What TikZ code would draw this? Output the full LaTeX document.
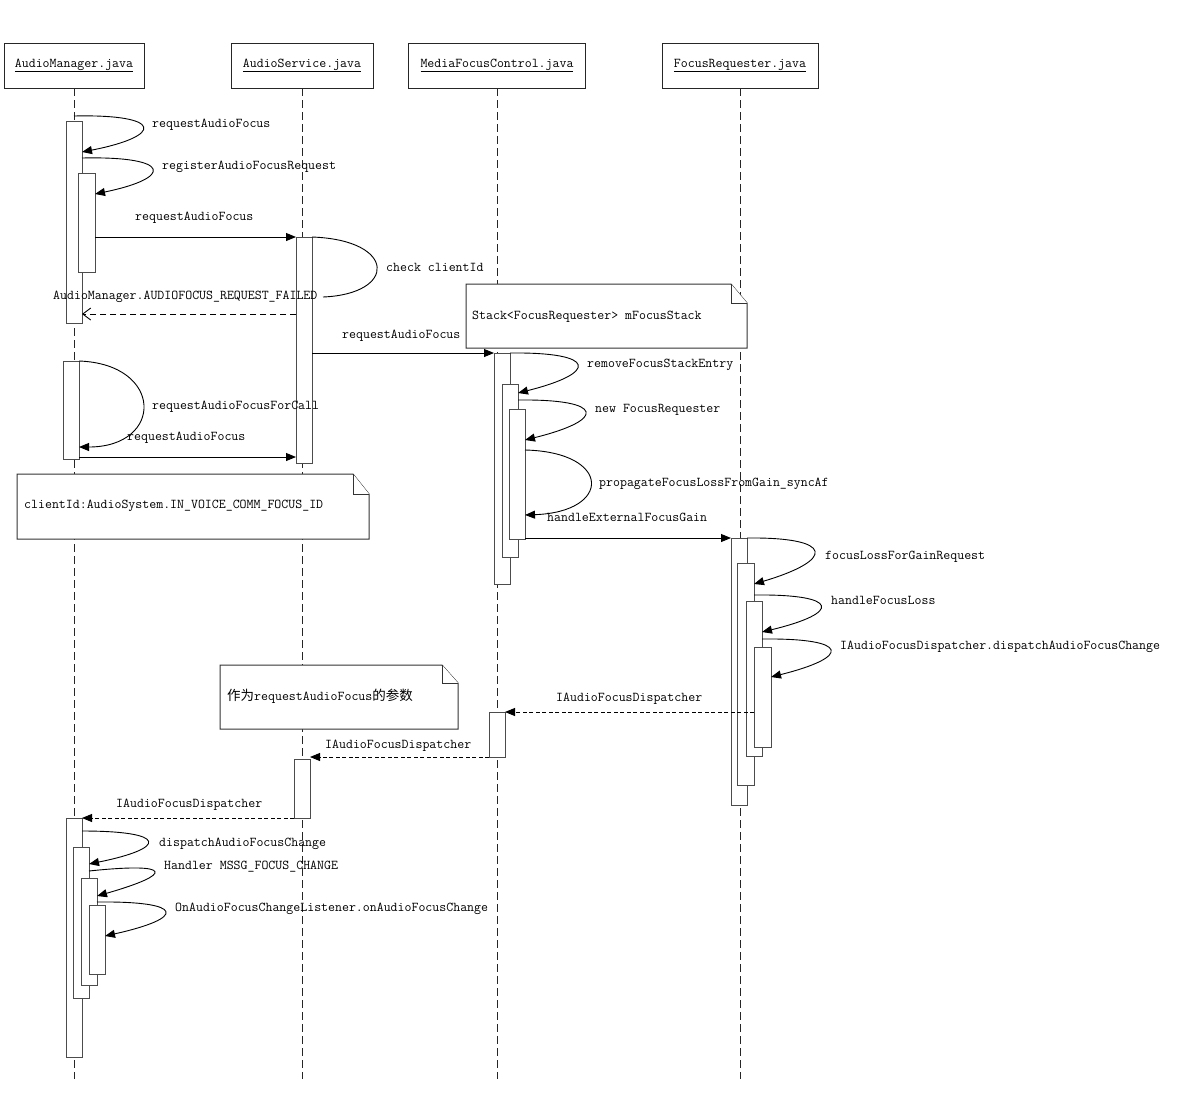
\documentclass[tikz,border=0pt]{standalone}
\usepackage{fontspec}
\newfontfamily\cjk{Noto Sans CJK SC}
\usetikzlibrary{arrows.meta,calc}
\newcommand\lbf{\fontsize{13.5}{16}\selectfont\ttfamily}
\newcommand\actbox[5]{\node[act,anchor=north west,minimum width={(#4-#2)*1pt},minimum height={(#5-#3)*1pt}] (#1) at (#2,#3) {};}
\newcommand\notebox[7]{%
  \node[anchor=north west,inner sep=0pt,outer sep=0pt,minimum width={(#4-#2)*1pt},minimum height={(#5-#3)*1pt}] (#1) at (#2,#3) {};
  \filldraw[notel] (#1.north west) -- ($(#1.north east)+(-#6,0)$) -- ($(#1.north east)+(0,#7)$) -- (#1.south east) -- (#1.south west) -- cycle;
  \draw[notel] ($(#1.north east)+(-#6,0)$) |- ($(#1.north east)+(0,#7)$);}
\begin{document}
\begin{tikzpicture}[x=1pt,y=-1pt,
  lbl/.style={font=\lbf,anchor=west,inner sep=0pt,text height=9pt,text depth=3pt},
  hdr/.style={draw=black!85,fill=white,line width=0.9pt,font=\lbf,inner sep=0pt,minimum height=45pt},
  life/.style={draw=black!85,line width=0.9pt,dash pattern=on 8pt off 4pt},
  act/.style={draw=black!70,fill=white,line width=1pt,inner sep=0pt,outer sep=0pt},
  notel/.style={draw=black!80,fill=white,line width=1pt},
  msg/.style={draw=black,line width=0.9pt,-{Triangle[length=10pt,width=8pt]}},
  ret/.style={draw=black,line width=0.9pt,dash pattern=on 4pt off 2.5pt,-{Triangle[length=10pt,width=8pt]}},
  retopen/.style={draw=black,line width=0.9pt,dash pattern=on 6pt off 4pt,-{Straight Barb[length=8pt,width=12pt]}},
  loopl/.style={draw=black,line width=0.9pt}]
\useasboundingbox (0,0) rectangle (1181,1114);
\fill[white] (0,0) rectangle (1181,1114);

% headers
\node[hdr,minimum width=140pt] (amh) at (74,65.5) {\underline{AudioManager.java}};
\node[hdr,minimum width=142pt] (ash) at (302,65.5) {\underline{AudioService.java}};
\node[hdr,minimum width=177pt] (mfh) at (497,65.5) {\underline{MediaFocusControl.java}};
\node[hdr,minimum width=156pt] (frh) at (740,65.5) {\underline{FocusRequester.java}};

% lifelines
\coordinate (bot) at (0,1079);
\draw[life] (amh.south) -- (amh.south |- bot);
\draw[life] (ash.south) -- (ash.south |- bot);
\draw[life] (mfh.south) -- (mfh.south |- bot);
\draw[life] (frh.south) -- (frh.south |- bot);

% notes
\notebox{n1}{17}{474}{369}{539}{16}{20}
\node[lbl] (n1t) at (24,505) {clientId:AudioSystem.IN\_VOICE\_COMM\_FOCUS\_ID};
\notebox{n2}{466}{284}{747}{348}{16}{19}
\node[lbl] (n2t) at (472,316) {Stack<FocusRequester> mFocusStack};
\notebox{n3}{220}{665}{458}{729}{16}{18}
\node[lbl] (n3t) at (227,697) {{\cjk 作为}requestAudioFocus{\cjk 的参数}};

% activations
\actbox{A1}{66}{121}{82}{323}
\actbox{A2}{78}{173}{95}{272}
\actbox{A3}{63}{361}{79}{459}
\actbox{B1}{296}{237}{312}{463}
\actbox{B2}{294}{759}{310}{818}
\actbox{C1}{494}{353}{510}{584}
\actbox{C2}{502}{384}{518}{557}
\actbox{C3}{509}{409}{525}{539}
\actbox{C4}{489}{712}{505}{757}
\actbox{D1}{731}{538}{747}{805}
\actbox{D2}{737}{563}{754}{785}
\actbox{D3}{746}{601}{762}{756}
\actbox{D4}{754}{647}{771}{747}
\actbox{E1}{66}{818}{82}{1057}
\actbox{E2}{73}{847}{89}{998}
\actbox{E3}{81}{878}{97}{985}
\actbox{E4}{89}{905}{105}{974}

% self calls
\draw[msg] (amh.south |- 0,116) .. controls (164,114) and (164,136) .. (A1.east |- 0,152);
\node[lbl] (l1) at (152,124) {requestAudioFocus};
\draw[msg] (A1.east |- 0,158) .. controls (173,156) and (173,178) .. (A2.east |- 0,194);
\node[lbl] (l2) at (162,166) {registerAudioFocusRequest};
\draw[loopl] (B1.east |- 0,237) .. controls (397,240) and (397,294) .. (323,297);
\node[lbl] (l3) at (386,268) {check clientId};
\draw[msg] (A3.north east) .. controls (164,364) and (164,447) .. (A3.east |- 0,447);
\node[lbl] (l4) at (152,406) {requestAudioFocusForCall};
\draw[msg] (C1.east |- 0,353) .. controls (598,352) and (598,373) .. (C2.east |- 0,393);
\node[lbl] (l5) at (587,364) {removeFocusStackEntry};
\draw[msg] (C2.east |- 0,400) .. controls (606,399) and (606,420) .. (C3.east |- 0,440);
\node[lbl] (l6) at (595,409) {new FocusRequester};
\draw[msg] (C3.east |- 0,450) .. controls (612,452) and (612,512) .. (C3.east |- 0,515);
\node[lbl] (l7) at (599,483) {propagateFocusLossFromGain\_syncAf};
\draw[msg] (D1.east |- 0,538) .. controls (835,537) and (835,560) .. (D2.east |- 0,584);
\node[lbl] (l8) at (825,556) {focusLossForGainRequest};
\draw[msg] (D2.east |- 0,595) .. controls (841,594) and (841,613) .. (D3.east |- 0,632);
\node[lbl] (l9) at (831,601) {handleFocusLoss};
\draw[msg] (D3.east |- 0,639) .. controls (851,638) and (851,657) .. (D4.east |- 0,677);
\node[lbl] (l10) at (840,646) {IAudioFocusDispatcher.dispatchAudioFocusChange};
\draw[msg] (E1.east |- 0,831) .. controls (168,831) and (168,848) .. (E2.east |- 0,864);
\node[lbl] (l11) at (159,843) {dispatchAudioFocusChange};
\draw[msg] (E2.east |- 0,871) .. controls (174,862) and (174,874) .. (E3.east |- 0,896);
\node[lbl] (l12) at (164,866) {Handler MSSG\_FOCUS\_CHANGE};
\draw[msg] (E3.east |- 0,902) .. controls (186,901) and (186,918) .. (E4.east |- 0,936);
\node[lbl] (l13) at (175,908) {OnAudioFocusChangeListener.onAudioFocusChange};

% messages
\draw[msg] (A2.east |- 0,237) -- (B1.north west);
\node[lbl] (m1) at (135,217) {requestAudioFocus};
\draw[retopen] (B1.west |- 0,314) -- (A1.east |- 0,314);
\node[lbl] (m2) at (53,296) {AudioManager.AUDIOFOCUS\_REQUEST\_FAILED};
\draw[msg] (B1.east |- 0,353) -- (C1.north west);
\node[lbl] (m3) at (342,335) {requestAudioFocus};
\draw[msg] (A3.east |- 0,457) -- (B1.west |- 0,457);
\node[lbl] (m4) at (127,437) {requestAudioFocus};
\draw[msg] (C3.east |- 0,538) -- (D1.north west);
\node[lbl] (m5) at (547,518) {handleExternalFocusGain};
\draw[ret] (D4.west |- 0,712) -- (C4.north east);
\node[lbl] (m6) at (556,698) {IAudioFocusDispatcher};
\draw[ret] (C4.south west) -- (B2.east |- 0,757);
\node[lbl] (m7) at (325,745) {IAudioFocusDispatcher};
\draw[ret] (B2.south west) -- (E1.north east);
\node[lbl] (m8) at (116,804) {IAudioFocusDispatcher};
\end{tikzpicture}
\end{document}
